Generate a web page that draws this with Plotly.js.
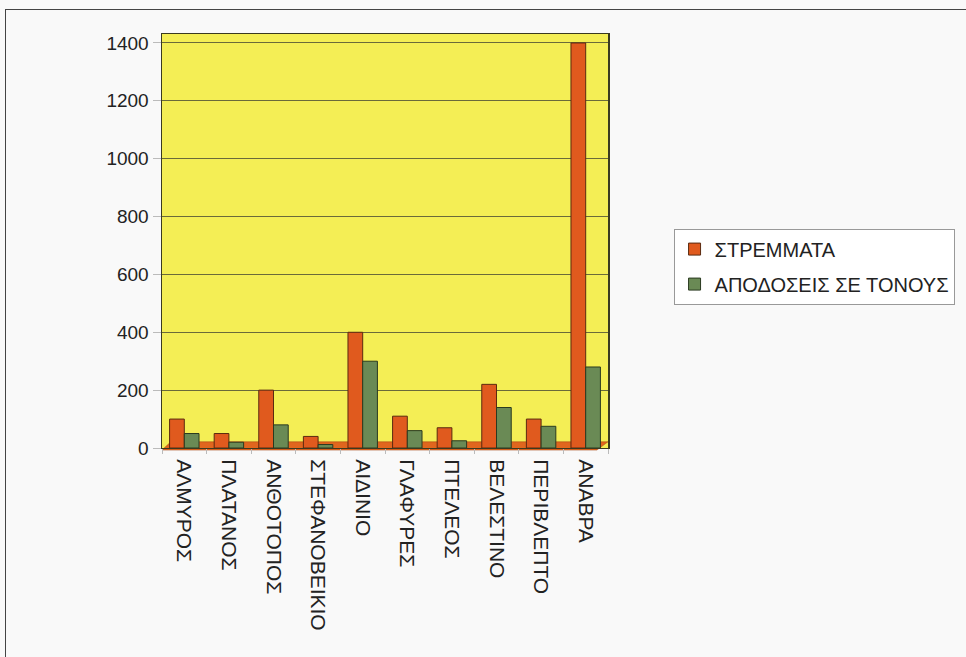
<!DOCTYPE html>
<html>
<head>
<meta charset="utf-8">
<script src="https://cdn.plot.ly/plotly-3.0.1.min.js"></script>
<style>
  html, body { margin: 0; padding: 0; background: #f9f9f9; }
  #frame { position: absolute; left: 5px; top: 9px; width: 970px; height: 660px; border: 1px solid #444; box-sizing: border-box; }
  #chart { position: absolute; left: 0; top: 0; width: 966px; height: 657px; }
</style>
</head>
<body>
<div id="frame"></div>
<div id="chart"></div>
<script>
// ---- data ----
const categories = ["ΑΛΜΥΡΟΣ", "ΠΛΑΤΑΝΟΣ", "ΑΝΘΟΤΟΠΟΣ", "ΣΤΕΦΑΝΟΒΕΙΚΙΟ", "ΑΙΔΙΝΙΟ",
                    "ΓΛΑΦΥΡΕΣ", "ΠΤΕΛΕΟΣ", "ΒΕΛΕΣΤΙΝΟ", "ΠΕΡΙΒΛΕΠΤΟ", "ΑΝΑΒΡΑ"];
const stremmata = [100, 50, 200, 40, 400, 110, 70, 220, 100, 1400];
const apodoseis = [50, 20, 80, 12, 300, 60, 25, 140, 75, 280];
const seriesNames = ["ΣΤΡΕΜΜΑΤΑ", "ΑΠΟΔΟΣΕΙΣ ΣΕ ΤΟΝΟΥΣ"];
const yTicks = [0, 200, 400, 600, 800, 1000, 1200, 1400];

const font = "Liberation Sans, Arial, sans-serif";

const traces = [
  {
    type: "bar", name: seriesNames[0], x: categories, y: stremmata,
    legendgroup: "a",
    marker: { color: "#e05a1e", line: { color: "#5a2a10", width: 1 } }
  },
  {
    type: "bar", name: seriesNames[1], x: categories, y: apodoseis,
    legendgroup: "b",
    marker: { color: "#6a8a55", line: { color: "#2a3a20", width: 1 } }
  }
];

const layout = {
  width: 966, height: 657,
  paper_bgcolor: "rgba(0,0,0,0)",
  plot_bgcolor: "#f4ee55",
  margin: { l: 162, r: 354, t: 34, b: 209, pad: 0 },
  barmode: "group",
  bargap: 0.34,
  bargroupgap: 0,
  showlegend: true,
  legend: {
    x: 1.147, y: 0.53, xanchor: "left", yanchor: "top",
    bgcolor: "#ffffff", bordercolor: "#999", borderwidth: 1,
    font: { family: font, size: 20, color: "#222" },
    itemwidth: 30,
    traceorder: "grouped", tracegroupgap: 6
  },
  xaxis: {
    type: "category",
    tickangle: 90,
    tickfont: { family: font, size: 21, color: "#222" },
    ticks: "outside", ticklen: 5, tickcolor: "#bbb",
    ticklabelstandoff: 6,
    tickson: "boundaries",
    showgrid: false,
    showline: true, linecolor: "#3a3a20", linewidth: 1, mirror: true,
    zeroline: false
  },
  yaxis: {
    range: [0, 1431],
    tickvals: yTicks,
    ticktext: yTicks.map(String),
    tickfont: { family: font, size: 19, color: "#222" },
    ticks: "outside", ticklen: 8, tickcolor: "#bbb",
    showgrid: true, gridcolor: "#6a6a3a", gridwidth: 1,
    showline: true, linecolor: "#3a3a20", linewidth: 1.5, mirror: true,
    zeroline: false
  },
  shapes: [
    {
      type: "path", xref: "paper", yref: "paper", layer: "below",
      path: "M 0,-0.005 L 0.975,-0.005 L 1,0.015 L 0.02,0.015 Z",
      fillcolor: "#e0661e", line: { color: "#a04010", width: 0.5 }
    }
  ]
};

Plotly.newPlot("chart", traces, layout, { displayModeBar: false, staticPlot: true });
</script>
</body>
</html>
